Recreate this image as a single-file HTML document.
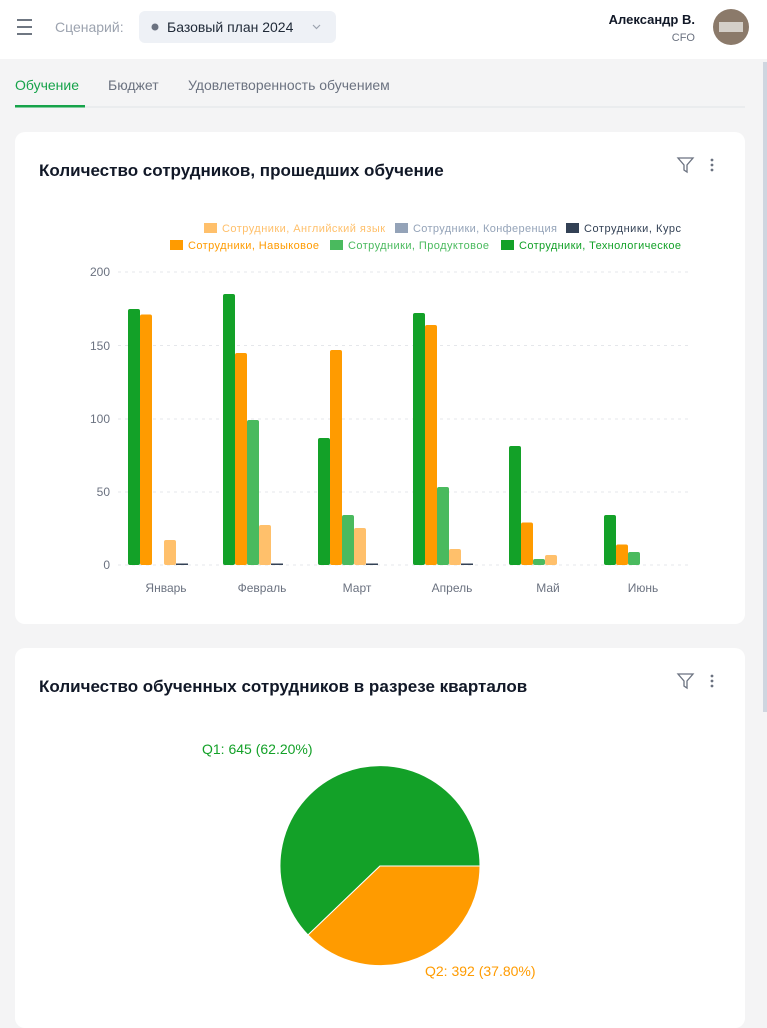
<!DOCTYPE html>
<html><head><meta charset="utf-8"><style>
body{margin:0;width:767px;height:1020px;overflow:hidden;background:#f4f4f5;font-family:"Liberation Sans",sans-serif;position:relative}
.hdr{position:absolute;left:0;top:0;width:767px;height:59px;background:#fff}
.card{position:absolute;left:15px;width:730px;background:#fff;border-radius:10px}
svg text{font-family:"Liberation Sans",sans-serif}
</style></head><body>
<div class="hdr"></div>
<svg width="767" height="1020" style="position:absolute;left:0;top:0">
<g stroke="#4b5563" stroke-width="1.6"><line x1="17" y1="20" x2="32" y2="20"/><line x1="17" y1="27" x2="32" y2="27"/><line x1="17" y1="34" x2="32" y2="34"/></g>
<text x="55" y="32" font-size="14" fill="#9ca3af">Сценарий:</text>
<rect x="139" y="11" width="197" height="32" rx="6" fill="#eef1f6"/>
<circle cx="155" cy="27" r="3.5" fill="#6b7280"/>
<text x="167" y="32" font-size="14" fill="#1f2937">Базовый план 2024</text>
<path d="M313 25l3.5 3.5 3.5-3.5" fill="none" stroke="#9ca3af" stroke-width="1.2"/>
<text x="695" y="24" font-size="13" font-weight="bold" fill="#111827" text-anchor="end">Александр В.</text>
<text x="695" y="41" font-size="11" fill="#6b7280" text-anchor="end">CFO</text>
<circle cx="731" cy="27" r="18" fill="#8b7a6a"/>
<rect x="719" y="22" width="24" height="10" fill="#d4cfc8"/>
<rect x="763" y="62" width="4" height="650" fill="#cfd6e0"/>
<text x="15" y="90" font-size="14" fill="#16a34a">Обучение</text>
<text x="108" y="90" font-size="14" fill="#6b7280">Бюджет</text>
<text x="188" y="90" font-size="14" fill="#6b7280">Удовлетворенность обучением</text>
<line x1="15" y1="107" x2="745" y2="107" stroke="#dfe3e8"/>
<rect x="15" y="105" width="70" height="2.5" fill="#16a34a"/>
</svg>
<div class="card" style="top:132px;height:492px"></div>
<div class="card" style="top:648px;height:380px"></div>
<svg width="767" height="1020" style="position:absolute;left:0;top:0">
<text x="39" y="176" font-size="17" font-weight="bold" fill="#111827">Количество сотрудников, прошедших обучение</text>
<path d="M678 158h15l-6 7v7l-3-2v-5z" fill="none" stroke="#6b7280" stroke-width="1.3"/>
<g fill="#6b7280"><circle cx="712" cy="160" r="1.4"/><circle cx="712" cy="165" r="1.4"/><circle cx="712" cy="170" r="1.4"/></g>
<g font-size="11">
<rect x="204" y="223" width="13" height="10" fill="#ffc06b"/><text x="222" y="232" fill="#ffc06b" textLength="163">Сотрудники, Английский язык</text>
<rect x="395" y="223" width="13" height="10" fill="#94a3b8"/><text x="413" y="232" fill="#94a3b8" textLength="144">Сотрудники, Конференция</text>
<rect x="566" y="223" width="13" height="10" fill="#334155"/><text x="584" y="232" fill="#334155" textLength="97">Сотрудники, Курс</text>
<rect x="170" y="240" width="13" height="10" fill="#ff9b00"/><text x="188" y="249" fill="#ff9b00" textLength="131">Сотрудники, Навыковое</text>
<rect x="330" y="240" width="13" height="10" fill="#4aba5e"/><text x="348" y="249" fill="#4aba5e" textLength="141">Сотрудники, Продуктовое</text>
<rect x="501" y="240" width="13" height="10" fill="#13a128"/><text x="519" y="249" fill="#13a128" textLength="162">Сотрудники, Технологическое</text>
</g>
<g stroke="#e5e7eb" stroke-dasharray="3,4"><line x1="118" y1="272" x2="690" y2="272"/><line x1="118" y1="345.5" x2="690" y2="345.5"/><line x1="118" y1="419" x2="690" y2="419"/><line x1="118" y1="492" x2="690" y2="492"/><line x1="118" y1="565" x2="690" y2="565"/></g>
<g font-size="12" fill="#6b7280" text-anchor="end"><text x="110" y="276">200</text><text x="110" y="350">150</text><text x="110" y="423">100</text><text x="110" y="496">50</text><text x="110" y="569">0</text></g>
<g font-size="12" fill="#6b7280" text-anchor="middle"><text x="166" y="592">Январь</text><text x="262" y="592">Февраль</text><text x="357" y="592">Март</text><text x="452" y="592">Апрель</text><text x="548" y="592">Май</text><text x="643" y="592">Июнь</text></g>
<g fill="#13a128"><rect x="128" y="309" width="12" height="256" rx="2"/><rect x="223" y="294" width="12" height="271" rx="2"/><rect x="318" y="438" width="12" height="127" rx="2"/><rect x="413" y="313" width="12" height="252" rx="2"/><rect x="509" y="446" width="12" height="119" rx="2"/><rect x="604" y="515" width="12" height="50" rx="2"/></g>
<g fill="#ff9b00"><rect x="140" y="314.5" width="12" height="250.5" rx="2"/><rect x="235" y="353" width="12" height="212" rx="2"/><rect x="330" y="350" width="12" height="215" rx="2"/><rect x="425" y="325" width="12" height="240" rx="2"/><rect x="521" y="522.5" width="12" height="42.5" rx="2"/><rect x="616" y="544.5" width="12" height="20.5" rx="2"/></g>
<g fill="#4aba5e"><rect x="247" y="420" width="12" height="145" rx="2"/><rect x="342" y="515" width="12" height="50" rx="2"/><rect x="437" y="487" width="12" height="78" rx="2"/><rect x="533" y="559" width="12" height="6" rx="2"/><rect x="628" y="552" width="12" height="13" rx="2"/></g>
<g fill="#ffc06b"><rect x="164" y="540" width="12" height="25" rx="2"/><rect x="259" y="525" width="12" height="40" rx="2"/><rect x="354" y="528" width="12" height="37" rx="2"/><rect x="449" y="549" width="12" height="16" rx="2"/><rect x="545" y="555" width="12" height="10" rx="2"/></g>
<g fill="#334155"><rect x="176" y="563.5" width="12" height="1.5"/><rect x="271" y="563.5" width="12" height="1.5"/><rect x="366" y="563.5" width="12" height="1.5"/><rect x="461" y="563.5" width="12" height="1.5"/></g>
<text x="39" y="692" font-size="17" font-weight="bold" fill="#111827">Количество обученных сотрудников в разрезе кварталов</text>
<path d="M678 674h15l-6 7v7l-3-2v-5z" fill="none" stroke="#6b7280" stroke-width="1.3"/>
<g fill="#6b7280"><circle cx="712" cy="676" r="1.4"/><circle cx="712" cy="681" r="1.4"/><circle cx="712" cy="686" r="1.4"/></g>
<path d="M380 866 L480 866 A100 100 0 1 0 308 935 Z" fill="#13a128" stroke="#fff" stroke-width="1"/>
<path d="M380 866 L308 935 A100 100 0 0 0 480 866 Z" fill="#ff9b00" stroke="#fff" stroke-width="1"/>
<text x="202" y="754" font-size="14" fill="#13a128">Q1: 645 (62.20%)</text>
<text x="425" y="976" font-size="14" fill="#ff9b00">Q2: 392 (37.80%)</text>
</svg>
</body></html>
